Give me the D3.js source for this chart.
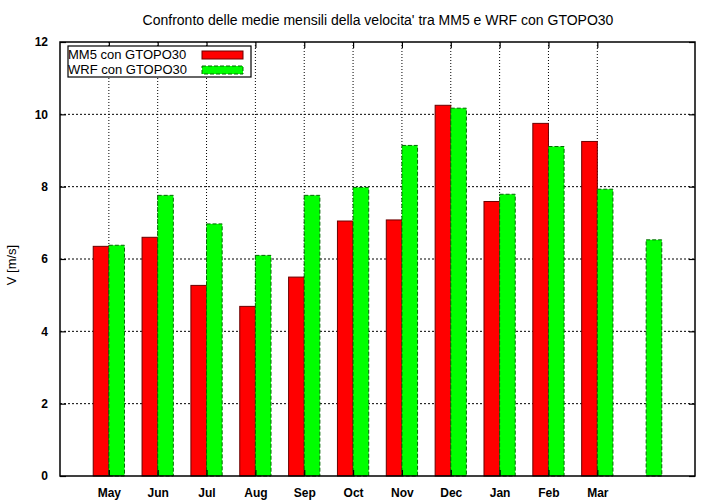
<!DOCTYPE html>
<html>
<head>
<meta charset="utf-8">
<script src="https://cdn.jsdelivr.net/npm/d3@7"></script>
<style>
  body { margin: 0; background: #fff; }
  text { font-family: "Liberation Sans", Arial, sans-serif; }
</style>
</head>
<body>
<div id="chart"></div>
<script>
// Data
var months = ["May", "Jun", "Jul", "Aug", "Sep", "Oct", "Nov", "Dec", "Jan", "Feb", "Mar", ""];
var mm5 = [6.35, 6.60, 5.27, 4.69, 5.50, 7.05, 7.08, 10.25, 7.59, 9.75, 9.25, null];
var wrf = [6.38, 7.76, 6.97, 6.10, 7.76, 7.98, 9.14, 10.17, 7.79, 9.11, 7.93, 6.53];
var yTicks = [0, 2, 4, 6, 8, 10, 12];
var seriesNames = ["MM5 con GTOPO30", "WRF con GTOPO30"];

var width = 720, height = 504;
// plot area (window.top is reserved, so prefix these)
var plotL = 60, plotR = 695, plotT = 42, plotB = 476;

var svg = d3.select("#chart").append("svg")
  .attr("width", width)
  .attr("height", height);

// scales
var x = d3.scaleLinear().domain([-1, months.length]).range([plotL, plotR]);
var y = d3.scaleLinear().domain([0, 12]).range([plotB, plotT]);
var barW = x(0.32) - x(0);

// grid
svg.append("g").selectAll("line").data(yTicks.slice(1, -1)).join("line")
  .attr("x1", plotL).attr("x2", plotR)
  .attr("y1", d => y(d)).attr("y2", d => y(d))
  .attr("stroke", "#000").attr("stroke-dasharray", "2,2");
svg.append("g").selectAll("line").data(months.slice(0, 11)).join("line")
  .attr("x1", (d, i) => x(i)).attr("x2", (d, i) => x(i))
  .attr("y1", plotT).attr("y2", plotB)
  .attr("stroke", "#000").attr("stroke-dasharray", "1,2");

// bars
svg.append("g").selectAll("rect").data(mm5).join("rect")
  .filter(d => d != null)
  .attr("x", d => x(mm5.indexOf(d)) - barW)
  .attr("y", d => y(d))
  .attr("width", barW)
  .attr("height", d => y(0) - y(d))
  .attr("fill", "#ff0000")
  .attr("stroke", "#6b0000").attr("stroke-width", 1);

svg.append("g").selectAll("rect").data(wrf).join("rect")
  .attr("x", (d, i) => x(i))
  .attr("y", d => y(d))
  .attr("width", barW)
  .attr("height", d => y(0) - y(d))
  .attr("fill", "#00ff00")
  .attr("stroke", "#006b00").attr("stroke-width", 1)
  .attr("stroke-dasharray", "4,2");

// axes
var yAxis = d3.axisLeft(y).tickValues(yTicks).tickSize(-6).tickPadding(12);
var gy = svg.append("g").attr("transform", "translate(" + plotL + ",0)").call(yAxis);
var yAxisR = d3.axisRight(y).tickValues(yTicks).tickSize(-6).tickFormat("");
var gyr = svg.append("g").attr("transform", "translate(" + plotR + ",0)").call(yAxisR);

var xIdx = d3.range(11);
var xAxis = d3.axisBottom(x).tickValues(xIdx).tickSize(-6).tickPadding(12)
  .tickFormat(i => months[i]);
var gx = svg.append("g").attr("transform", "translate(0," + plotB + ")").call(xAxis);
var xAxisT = d3.axisTop(x).tickValues(xIdx).tickSize(-6).tickFormat("");
var gxt = svg.append("g").attr("transform", "translate(0," + plotT + ")").call(xAxisT);

[gy, gyr, gx, gxt].forEach(function (g) {
  g.select(".domain").remove();
  g.selectAll(".tick line").attr("stroke", "#000").attr("stroke-width", 1.2);
  g.selectAll("text").attr("font-size", 12).attr("font-weight", "bold").attr("fill", "#000");
});

// border
svg.append("rect")
  .attr("x", plotL).attr("y", plotT)
  .attr("width", plotR - plotL).attr("height", plotB - plotT)
  .attr("fill", "none").attr("stroke", "#000").attr("stroke-width", 1.5);

// title and axis label
svg.append("text")
  .attr("x", 378).attr("y", 25)
  .attr("text-anchor", "middle").attr("font-size", 14)
  .text("Confronto delle medie mensili della velocita' tra MM5 e WRF con GTOPO30");

svg.append("text")
  .attr("transform", "translate(16,265) rotate(-90)")
  .attr("text-anchor", "middle").attr("font-size", 13)
  .text("V [m/s]");

// legend
var lg = svg.append("g");
lg.append("rect")
  .attr("x", 68).attr("y", 46).attr("width", 183).attr("height", 31)
  .attr("fill", "#fff").attr("stroke", "#000").attr("stroke-width", 1.2);
var legendColors = [["#ff0000", "#6b0000", null], ["#00ff00", "#006b00", "4,2"]];
seriesNames.forEach(function (name, i) {
  lg.append("text")
    .attr("x", 68).attr("y", 59 + i * 15)
    .attr("font-size", 13)
    .text(name);
  lg.append("rect")
    .attr("x", 202).attr("y", 51 + i * 15)
    .attr("width", 41).attr("height", 8)
    .attr("fill", legendColors[i][0])
    .attr("stroke", legendColors[i][1])
    .attr("stroke-dasharray", legendColors[i][2]);
});
</script>
</body>
</html>
